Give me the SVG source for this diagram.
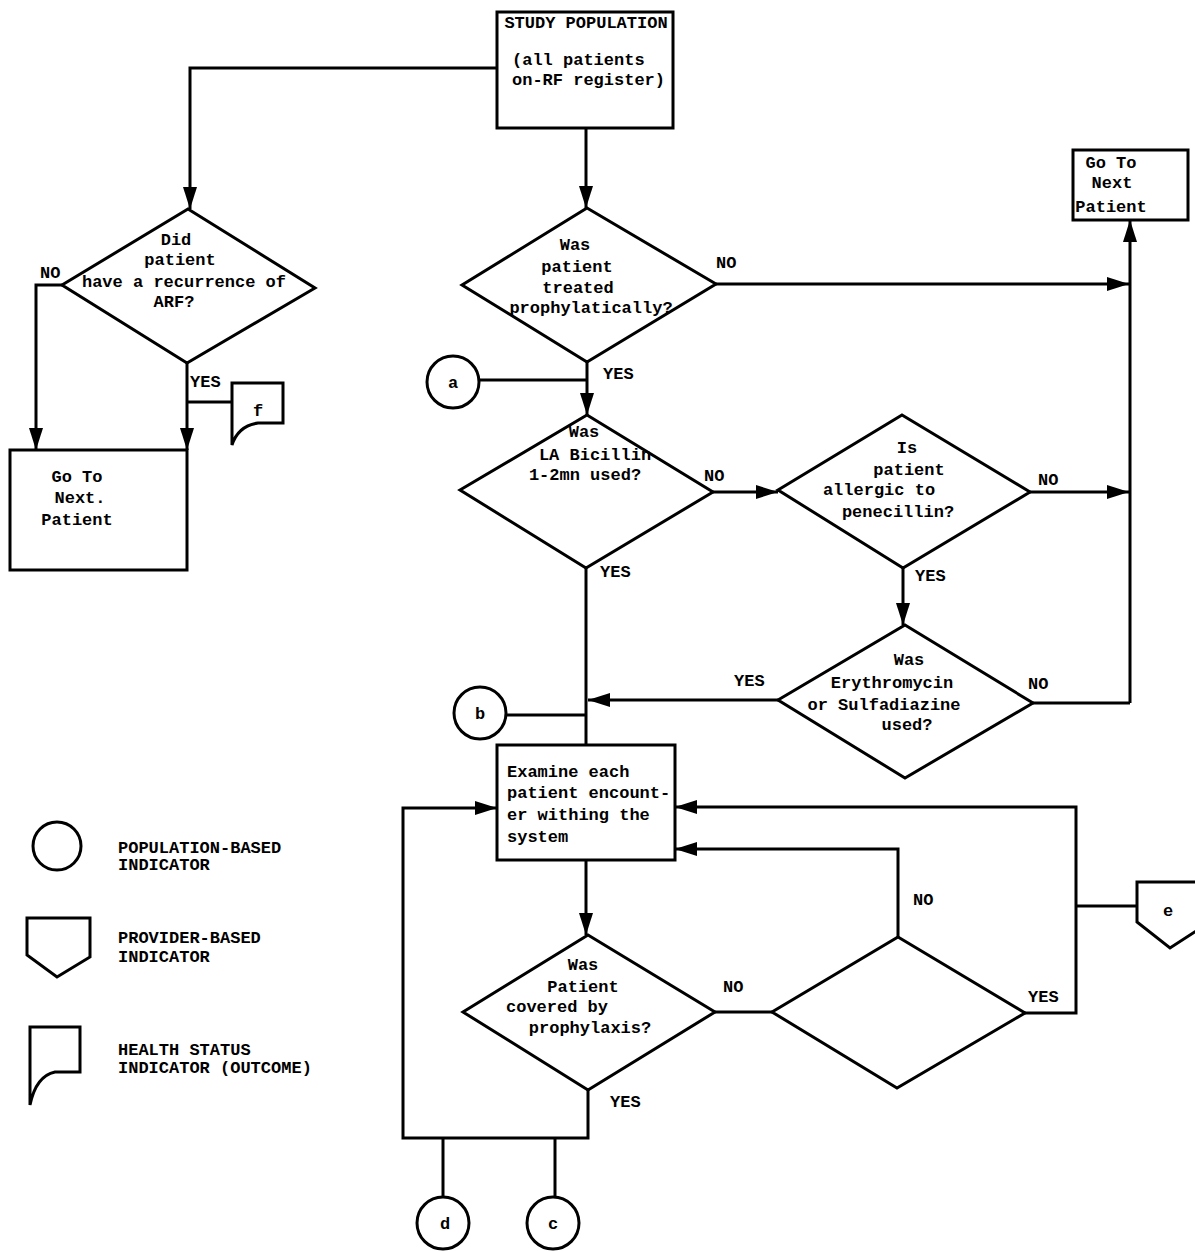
<svg xmlns="http://www.w3.org/2000/svg" width="1195" height="1251" viewBox="0 0 1195 1251">
<style>
  .s { fill: none; stroke: #000; stroke-width: 3; stroke-linejoin: miter; }
  .c { fill: none; stroke: #000; stroke-width: 3; }
  text { font-family: "Liberation Mono", "DejaVu Sans Mono", monospace; font-weight: bold; font-size: 17px; fill: #000; }
  .m { text-anchor: middle; }
</style>
<defs>
  <marker id="ah" viewBox="0 0 22 14" refX="22" refY="7" markerWidth="22" markerHeight="14" markerUnits="userSpaceOnUse" orient="auto">
    <path d="M0,0 L22,7 L0,14 Z" fill="#000"/>
  </marker>
</defs>
<rect width="1195" height="1251" fill="#fff"/>

<g id="connectors">
  <path class="c" d="M497,68 H190 V209" marker-end="url(#ah)"/>
  <path class="c" d="M586,128 V208" marker-end="url(#ah)"/>
  <path class="c" d="M62,285 H36 V450" marker-end="url(#ah)"/>
  <path class="c" d="M187,363 V450" marker-end="url(#ah)"/>
  <path class="c" d="M187,402 H232"/>
  <path class="c" d="M716,284 H1129" marker-end="url(#ah)"/>
  <path class="c" d="M1130,703 V220" marker-end="url(#ah)"/>
  <path class="c" d="M587,362 V415" marker-end="url(#ah)"/>
  <path class="c" d="M479,380 H587"/>
  <path class="c" d="M713,492 H778" marker-end="url(#ah)"/>
  <path class="c" d="M1030,492 H1129" marker-end="url(#ah)"/>
  <path class="c" d="M586,568 V745"/>
  <path class="c" d="M903,568 V625" marker-end="url(#ah)"/>
  <path class="c" d="M778,700 H588" marker-end="url(#ah)"/>
  <path class="c" d="M1033,703 H1130"/>
  <path class="c" d="M506,715 H586"/>
  <path class="c" d="M586,860 V935" marker-end="url(#ah)"/>
  <path class="c" d="M715,1012 H772"/>
  <path class="c" d="M898,937 V849 H675" marker-end="url(#ah)"/>
  <path class="c" d="M1025,1013 H1076 V807 H675" marker-end="url(#ah)"/>
  <path class="c" d="M1076,906 H1137"/>
  <path class="c" d="M588,1090 V1138 H403 V808 H497" marker-end="url(#ah)"/>
  <path class="c" d="M443,1138 V1196"/>
  <path class="c" d="M555,1138 V1197"/>
  <text x="40" y="278">NO</text>
  <text x="190" y="387">YES</text>
  <text x="716" y="268">NO</text>
  <text x="603" y="379">YES</text>
  <text x="704" y="481">NO</text>
  <text x="600" y="577">YES</text>
  <text x="1038" y="485">NO</text>
  <text x="915" y="581">YES</text>
  <text x="734" y="686">YES</text>
  <text x="1028" y="689">NO</text>
  <text x="723" y="992">NO</text>
  <text x="610" y="1107">YES</text>
  <text x="913" y="905">NO</text>
  <text x="1028" y="1002">YES</text>
</g>

<g id="study-population">
  <rect class="s" x="497" y="12" width="176" height="116"/>
  <text class="m" x="586" y="28">STUDY POPULATION</text>
  <text x="512" y="65">(all patients</text>
  <text x="512" y="85">on-RF register)</text>
</g>

<g id="d-recurrence">
  <polygon class="s" points="188,209 315,288 187,363 62,285"/>
  <text class="m" x="176" y="245">Did</text>
  <text class="m" x="180" y="265">patient</text>
  <text class="m" x="184" y="287">have a recurrence of</text>
  <text class="m" x="174" y="307">ARF?</text>
</g>

<g id="goto-left">
  <rect class="s" x="10" y="450" width="177" height="120"/>
  <text class="m" x="77" y="482">Go To</text>
  <text class="m" x="80" y="503">Next.</text>
  <text class="m" x="77" y="525">Patient</text>
</g>

<g id="f">
  <path class="s" d="M232,383 H283 V423 H258 Q238,426 232,445 Z"/>
  <text class="m" x="258" y="416">f</text>
</g>

<g id="d-treated">
  <polygon class="s" points="587,208 716,284 587,362 462,285"/>
  <text class="m" x="575" y="250">Was</text>
  <text class="m" x="577" y="272">patient</text>
  <text class="m" x="578" y="293">treated</text>
  <text class="m" x="591" y="313">prophylatically?</text>
</g>

<g id="goto-right">
  <rect class="s" x="1073" y="150" width="115" height="70"/>
  <text class="m" x="1111" y="168">Go To</text>
  <text class="m" x="1112" y="188">Next</text>
  <text class="m" x="1111" y="212">Patient</text>
</g>

<g id="a">
  <circle class="s" cx="453" cy="382" r="26"/>
  <text class="m" x="453" y="388">a</text>
</g>

<g id="d-bicillin">
  <polygon class="s" points="587,415 713,492 586,568 460,490"/>
  <text class="m" x="584" y="437">Was</text>
  <text class="m" x="595" y="460">LA Bicillin</text>
  <text class="m" x="585" y="480">1-2mn used?</text>
</g>

<g id="d-allergic">
  <polygon class="s" points="902,415 1030,492 903,568 778,490"/>
  <text class="m" x="907" y="453">Is</text>
  <text class="m" x="909" y="475">patient</text>
  <text class="m" x="879" y="495">allergic to</text>
  <text class="m" x="898" y="517">penecillin?</text>
</g>

<g id="d-erythromycin">
  <polygon class="s" points="905,625 1033,703 905,778 778,700"/>
  <text class="m" x="909" y="665">Was</text>
  <text class="m" x="892" y="688">Erythromycin</text>
  <text class="m" x="884" y="710">or Sulfadiazine</text>
  <text class="m" x="907" y="730">used?</text>
</g>

<g id="b">
  <circle class="s" cx="480" cy="713" r="26"/>
  <text class="m" x="480" y="719">b</text>
</g>

<g id="examine">
  <rect class="s" x="497" y="745" width="178" height="115"/>
  <text x="507" y="777">Examine each</text>
  <text x="507" y="798">patient encount-</text>
  <text x="507" y="820">er withing the</text>
  <text x="507" y="842">system</text>
</g>

<g id="d-covered">
  <polygon class="s" points="588,935 715,1012 588,1090 463,1012"/>
  <text class="m" x="583" y="970">Was</text>
  <text class="m" x="583" y="992">Patient</text>
  <text class="m" x="557" y="1012">covered by</text>
  <text class="m" x="590" y="1033">prophylaxis?</text>
</g>

<g id="d-empty">
  <polygon class="s" points="898,937 1025,1013 897,1088 772,1012"/>
</g>

<g id="e">
  <path class="s" d="M1137,882 H1210 V922 L1170,948 L1137,922 Z"/>
  <text class="m" x="1168" y="916">e</text>
</g>

<g id="d">
  <circle class="s" cx="443" cy="1223" r="26"/>
  <text class="m" x="445" y="1229">d</text>
</g>

<g id="c">
  <circle class="s" cx="553" cy="1223" r="26"/>
  <text class="m" x="553" y="1229">c</text>
</g>

<g id="legend">
  <circle class="s" cx="57" cy="846" r="24"/>
  <text x="118" y="853">POPULATION-BASED</text>
  <text x="118" y="870">INDICATOR</text>
  <path class="s" d="M27,918 H90 V957 L57,977 L27,955 Z"/>
  <text x="118" y="943">PROVIDER-BASED</text>
  <text x="118" y="962">INDICATOR</text>
  <path class="s" d="M30,1027 H80 V1072 H55 Q36,1076 30,1105 Z"/>
  <text x="118" y="1055">HEALTH STATUS</text>
  <text x="118" y="1073">INDICATOR (OUTCOME)</text>
</g>
</svg>
